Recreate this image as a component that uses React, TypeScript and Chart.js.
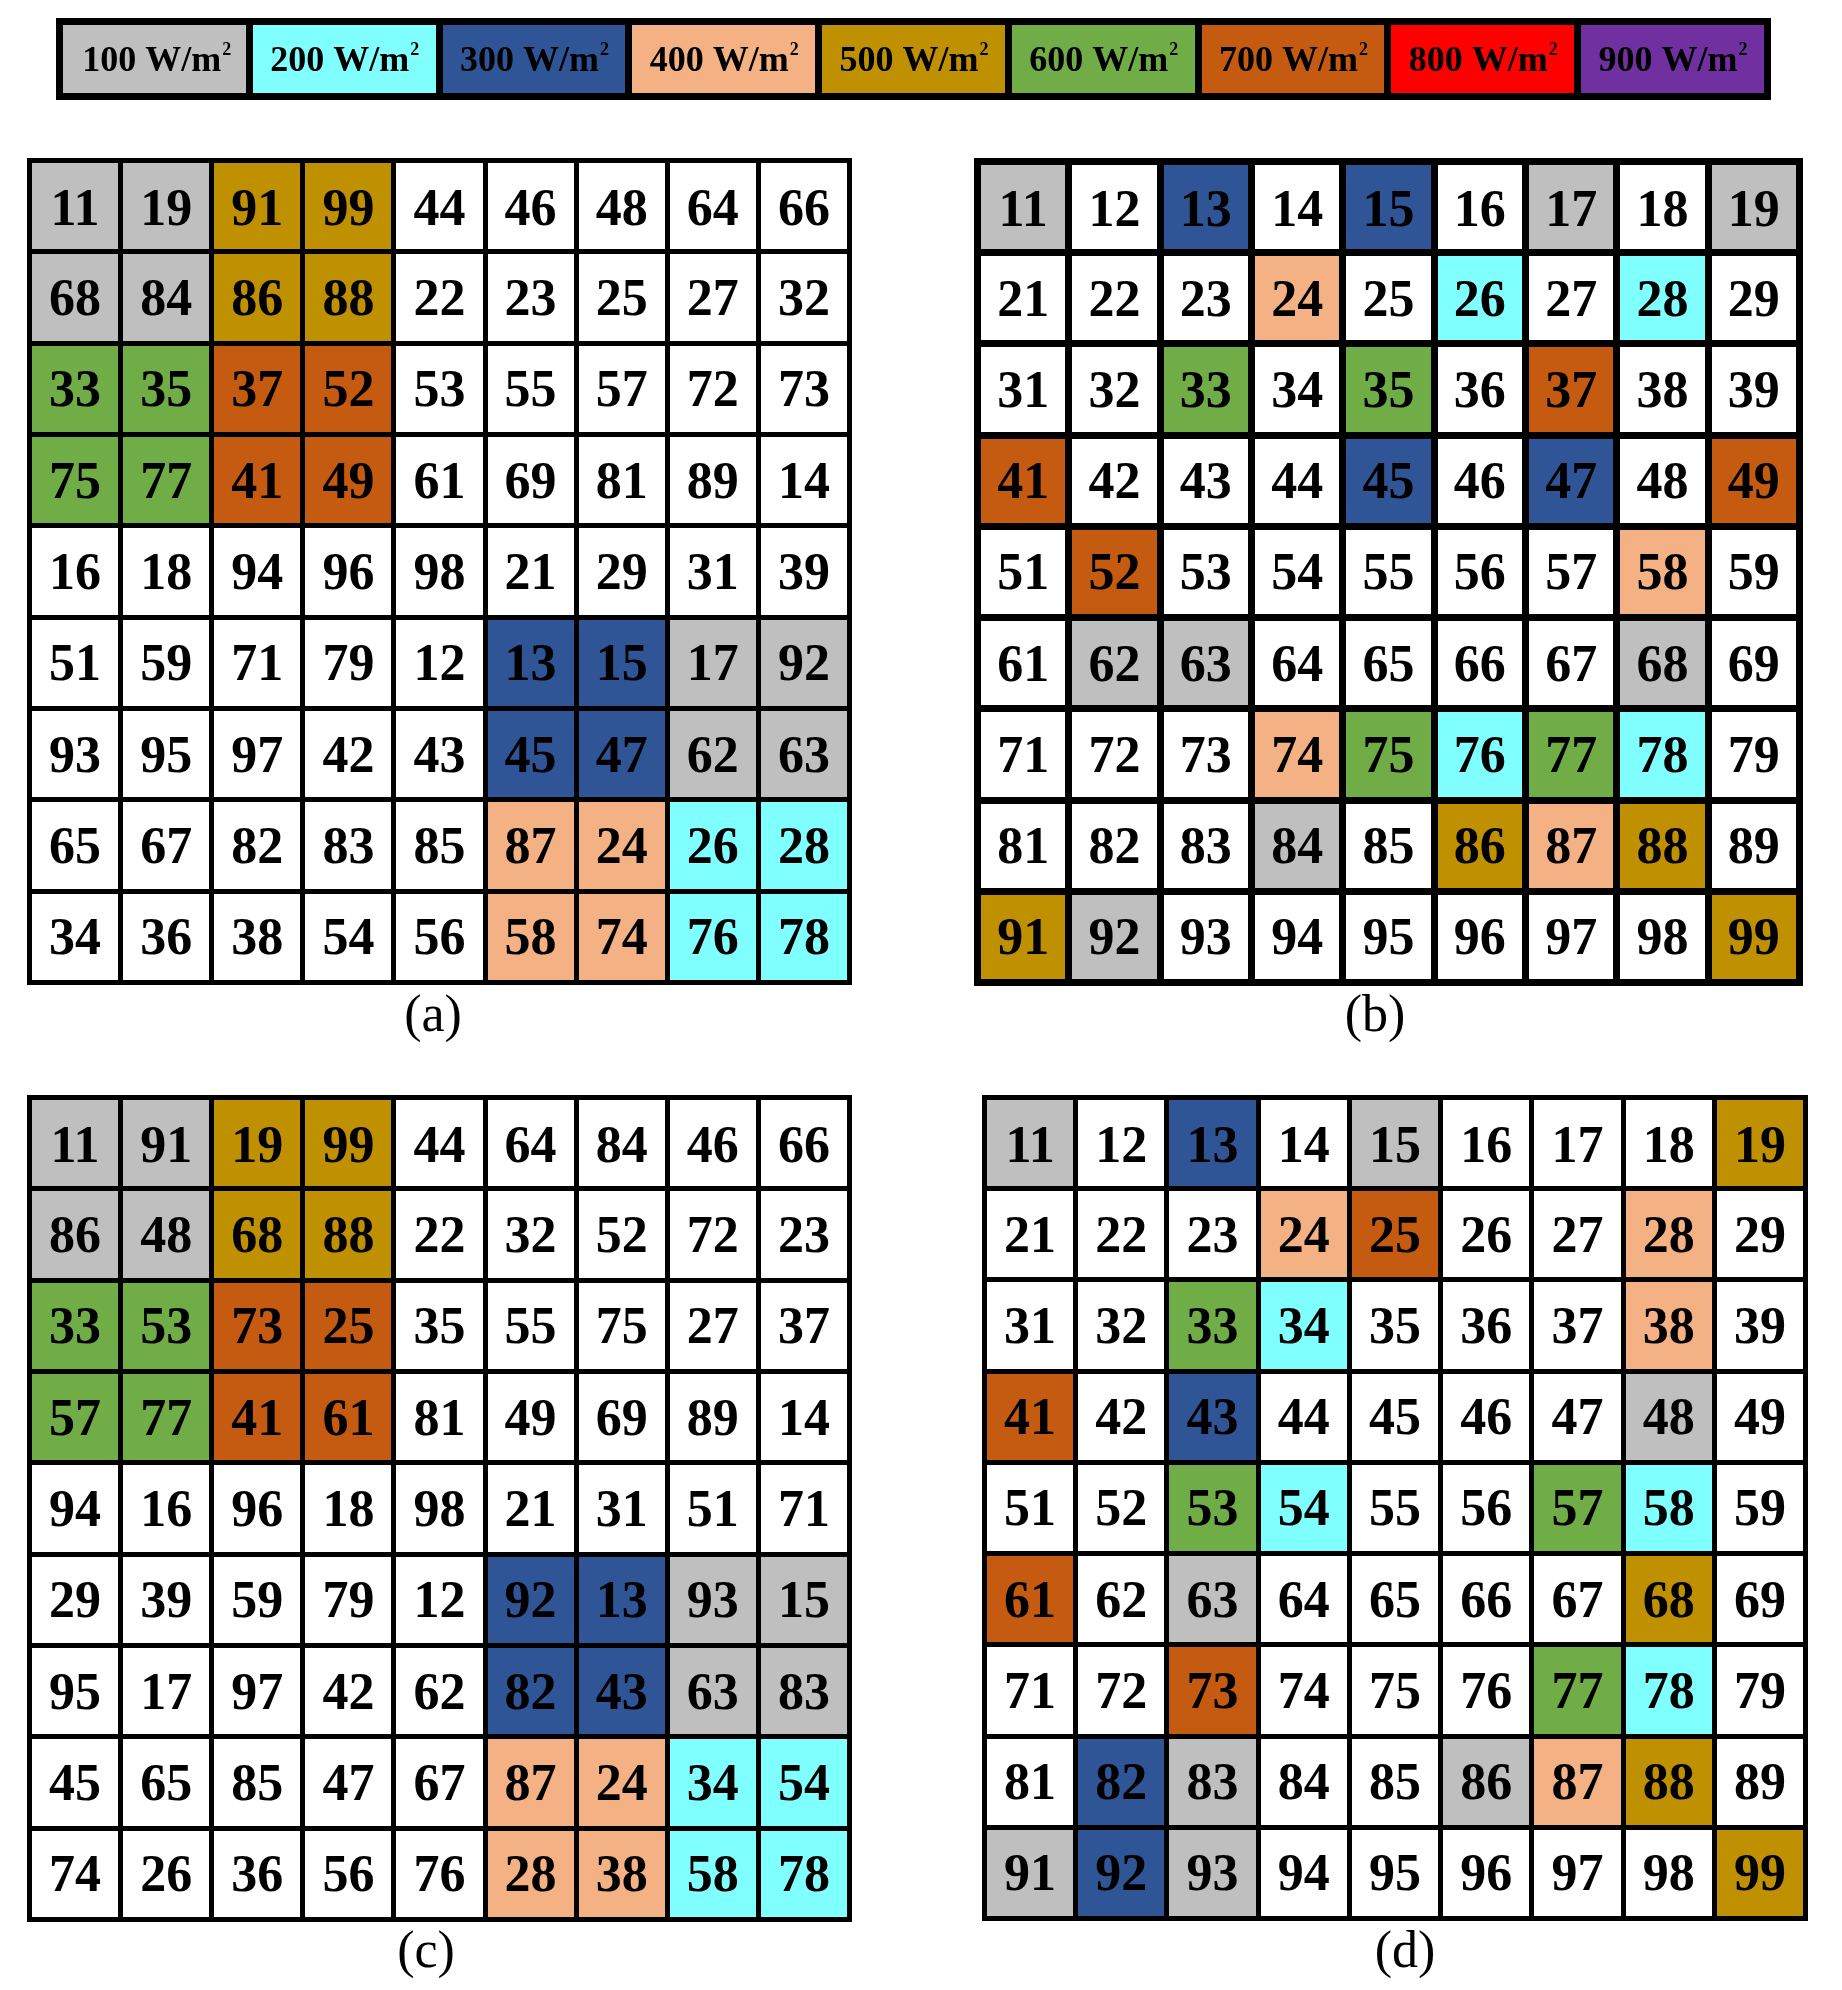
import React, { useEffect, useRef } from 'react';
import { Chart, registerables } from 'chart.js';

Chart.register(...registerables);

// ---------- Legend (power levels) ----------
const LEVEL_LABELS = ['100', '200', '300', '400', '500', '600', '700', '800', '900'];
const LEVEL_UNIT = ' W/m';
const LEVEL_COLORS = ['#BFBFBF', '#80FFFF', '#2F5597', '#F4B183', '#BF9000', '#70AD47', '#C55A11', '#FF0000', '#7030A0'];

// ---------- Scenario 1: panels (a) and (b) ----------
const AB_100 = [11, 19, 68, 84, 17, 92, 62, 63];
const AB_200 = [26, 28, 76, 78];
const AB_300 = [13, 15, 45, 47];
const AB_400 = [87, 24, 58, 74];
const AB_500 = [91, 99, 86, 88];
const AB_600 = [33, 35, 75, 77];
const AB_700 = [37, 52, 41, 49];
const AB_800: number[] = [];
const AB_900: number[] = [];

// ---------- Scenario 2: panels (c) and (d) ----------
const CD_100 = [11, 91, 86, 48, 93, 15, 63, 83];
const CD_200 = [34, 54, 58, 78];
const CD_300 = [92, 13, 82, 43];
const CD_400 = [87, 24, 28, 38];
const CD_500 = [19, 99, 68, 88];
const CD_600 = [33, 53, 57, 77];
const CD_700 = [73, 25, 41, 61];
const CD_800: number[] = [];
const CD_900: number[] = [];

// ---------- Cell numbers of each panel (rows top to bottom) ----------
const GRID_A = [
  [11, 19, 91, 99, 44, 46, 48, 64, 66],
  [68, 84, 86, 88, 22, 23, 25, 27, 32],
  [33, 35, 37, 52, 53, 55, 57, 72, 73],
  [75, 77, 41, 49, 61, 69, 81, 89, 14],
  [16, 18, 94, 96, 98, 21, 29, 31, 39],
  [51, 59, 71, 79, 12, 13, 15, 17, 92],
  [93, 95, 97, 42, 43, 45, 47, 62, 63],
  [65, 67, 82, 83, 85, 87, 24, 26, 28],
  [34, 36, 38, 54, 56, 58, 74, 76, 78],
];
const GRID_B = [
  [11, 12, 13, 14, 15, 16, 17, 18, 19],
  [21, 22, 23, 24, 25, 26, 27, 28, 29],
  [31, 32, 33, 34, 35, 36, 37, 38, 39],
  [41, 42, 43, 44, 45, 46, 47, 48, 49],
  [51, 52, 53, 54, 55, 56, 57, 58, 59],
  [61, 62, 63, 64, 65, 66, 67, 68, 69],
  [71, 72, 73, 74, 75, 76, 77, 78, 79],
  [81, 82, 83, 84, 85, 86, 87, 88, 89],
  [91, 92, 93, 94, 95, 96, 97, 98, 99],
];
const GRID_C = [
  [11, 91, 19, 99, 44, 64, 84, 46, 66],
  [86, 48, 68, 88, 22, 32, 52, 72, 23],
  [33, 53, 73, 25, 35, 55, 75, 27, 37],
  [57, 77, 41, 61, 81, 49, 69, 89, 14],
  [94, 16, 96, 18, 98, 21, 31, 51, 71],
  [29, 39, 59, 79, 12, 92, 13, 93, 15],
  [95, 17, 97, 42, 62, 82, 43, 63, 83],
  [45, 65, 85, 47, 67, 87, 24, 34, 54],
  [74, 26, 36, 56, 76, 28, 38, 58, 78],
];
const GRID_D = [
  [11, 12, 13, 14, 15, 16, 17, 18, 19],
  [21, 22, 23, 24, 25, 26, 27, 28, 29],
  [31, 32, 33, 34, 35, 36, 37, 38, 39],
  [41, 42, 43, 44, 45, 46, 47, 48, 49],
  [51, 52, 53, 54, 55, 56, 57, 58, 59],
  [61, 62, 63, 64, 65, 66, 67, 68, 69],
  [71, 72, 73, 74, 75, 76, 77, 78, 79],
  [81, 82, 83, 84, 85, 86, 87, 88, 89],
  [91, 92, 93, 94, 95, 96, 97, 98, 99],
];
const COLUMN_LABELS = ['1', '2', '3', '4', '5', '6', '7', '8', '9'];

const LEVELS_AB = [AB_100, AB_200, AB_300, AB_400, AB_500, AB_600, AB_700, AB_800, AB_900];
const LEVELS_CD = [CD_100, CD_200, CD_300, CD_400, CD_500, CD_600, CD_700, CD_800, CD_900];

const SERIF = '"Liberation Serif", "Times New Roman", serif';

function colorFor(n: number, levels: number[][]): string {
  for (let i = 0; i < levels.length; i++) {
    if (levels[i].includes(n)) return LEVEL_COLORS[i];
  }
  return '#FFFFFF';
}

type Box = { x0: number; y0: number; x1: number; y1: number };
const MARGIN = 6;

const frameStyle = (box: Box): React.CSSProperties => ({
  position: 'absolute',
  left: box.x0 - MARGIN,
  top: box.y0 - MARGIN,
  display: 'block',
});

function outerFrame(lw: number) {
  return {
    id: 'outerFrame',
    afterDraw(chart: any) {
      const { ctx, chartArea } = chart;
      ctx.save();
      ctx.strokeStyle = '#000';
      ctx.lineWidth = lw;
      ctx.lineJoin = 'miter';
      ctx.strokeRect(chartArea.left, chartArea.top, chartArea.right - chartArea.left, chartArea.bottom - chartArea.top);
      ctx.restore();
    },
  };
}

function GridPanel({ grid, levels, box, lw }: { grid: number[][]; levels: number[][]; box: Box; lw: number }) {
  const ref = useRef<HTMLCanvasElement | null>(null);
  const w = box.x1 - box.x0 + 2 * MARGIN;
  const h = box.y1 - box.y0 + 2 * MARGIN;
  useEffect(() => {
    if (!ref.current) return;
    const pad = MARGIN + lw / 2;
    const datasets = grid.map((row, r) => ({
      label: `row ${r + 1}`,
      data: row.map(() => 1),
      backgroundColor: row.map((n) => colorFor(n, levels)),
      borderWidth: 0,
      barPercentage: 1,
      categoryPercentage: 1,
    }));
    const cellText = {
      id: 'cellText',
      afterDatasetsDraw(chart: any) {
        const { ctx } = chart;
        const size = 52;
        ctx.save();
        ctx.fillStyle = '#000';
        ctx.font = `bold ${size}px ${SERIF}`;
        ctx.textAlign = 'center';
        ctx.textBaseline = 'alphabetic';
        grid.forEach((row, r) => {
          const meta = chart.getDatasetMeta(r);
          row.forEach((n, c) => {
            const el = meta.data[c];
            const cy = (el.y + el.base) / 2;
            ctx.fillText(String(n), el.x, cy + size * 0.335);
          });
        });
        ctx.restore();
      },
    };
    const gridOpts = { color: '#000', lineWidth: lw, drawTicks: false, z: 1 };
    const chart = new Chart(ref.current, {
      type: 'bar',
      data: { labels: COLUMN_LABELS, datasets },
      options: {
        responsive: false,
        animation: false,
        events: [],
        layout: { padding: pad },
        plugins: { legend: { display: false }, tooltip: { enabled: false }, title: { display: false } },
        scales: {
          x: {
            stacked: true,
            ticks: { display: false },
            grid: { ...gridOpts, offset: true },
            border: { display: false },
          },
          y: {
            stacked: true,
            reverse: true,
            min: 0,
            max: 9,
            ticks: { display: false, stepSize: 1 },
            grid: gridOpts,
            border: { display: false },
          },
        },
      } as any,
      plugins: [cellText, outerFrame(lw)],
    });
    return () => chart.destroy();
  }, []);
  return <canvas ref={ref} width={w} height={h} style={frameStyle(box)} />;
}

function LegendBar({ box, lw }: { box: Box; lw: number }) {
  const ref = useRef<HTMLCanvasElement | null>(null);
  const w = box.x1 - box.x0 + 2 * MARGIN;
  const h = box.y1 - box.y0 + 2 * MARGIN;
  useEffect(() => {
    if (!ref.current) return;
    const pad = MARGIN + lw / 2;
    const datasets = LEVEL_LABELS.map((l, i) => ({
      label: l + LEVEL_UNIT + '²',
      data: [1],
      backgroundColor: LEVEL_COLORS[i],
      borderWidth: 0,
      barPercentage: 1,
      categoryPercentage: 1,
    }));
    const legendText = {
      id: 'legendText',
      afterDatasetsDraw(chart: any) {
        const { ctx } = chart;
        const size = 36;
        const sup = 18;
        ctx.save();
        ctx.fillStyle = '#000';
        ctx.textBaseline = 'alphabetic';
        ctx.textAlign = 'left';
        LEVEL_LABELS.forEach((l, i) => {
          const el = chart.getDatasetMeta(i).data[0];
          const cx = (el.x + el.base) / 2;
          const base = el.y + size * 0.335;
          const main = l + LEVEL_UNIT;
          ctx.font = `bold ${size}px ${SERIF}`;
          const mw = ctx.measureText(main).width;
          ctx.font = `bold ${sup}px ${SERIF}`;
          const sw = ctx.measureText('2').width;
          const x0 = cx - (mw + sw) / 2;
          ctx.font = `bold ${size}px ${SERIF}`;
          ctx.fillText(main, x0, base);
          ctx.font = `bold ${sup}px ${SERIF}`;
          ctx.fillText('2', x0 + mw + 1, base - 16);
        });
        ctx.restore();
      },
    };
    const gridOpts = { color: '#000', lineWidth: lw, drawTicks: false, z: 1 };
    const chart = new Chart(ref.current, {
      type: 'bar',
      data: { labels: ['irradiance'], datasets },
      options: {
        indexAxis: 'y',
        responsive: false,
        animation: false,
        events: [],
        layout: { padding: pad },
        plugins: { legend: { display: false }, tooltip: { enabled: false }, title: { display: false } },
        scales: {
          x: {
            stacked: true,
            min: 0,
            max: 9,
            ticks: { display: false, stepSize: 1 },
            grid: gridOpts,
            border: { display: false },
          },
          y: {
            stacked: true,
            ticks: { display: false },
            grid: { ...gridOpts, offset: true },
            border: { display: false },
          },
        },
      } as any,
      plugins: [legendText, outerFrame(lw)],
    });
    return () => chart.destroy();
  }, []);
  return <canvas ref={ref} width={w} height={h} style={frameStyle(box)} />;
}

function PanelLabel({ text, cx, cy }: { text: string; cx: number; cy: number }) {
  return (
    <div
      style={{
        position: 'absolute',
        left: cx,
        top: cy - 5,
        transform: 'translate(-50%, -50%)',
        fontFamily: SERIF,
        fontSize: 52,
        lineHeight: 1,
        color: '#000',
        whiteSpace: 'nowrap',
      }}
    >
      {text}
    </div>
  );
}

export default function App() {
  return (
    <div style={{ position: 'absolute', left: 0, top: 0, width: 1842, height: 1990, background: '#fff' }}>
      <LegendBar box={{ x0: 56, y0: 18, x1: 1771, y1: 100 }} lw={7} />
      <GridPanel grid={GRID_A} levels={LEVELS_AB} box={{ x0: 27, y0: 158, x1: 852, y1: 985 }} lw={5} />
      <GridPanel grid={GRID_B} levels={LEVELS_AB} box={{ x0: 974, y0: 158, x1: 1803, y1: 986 }} lw={7} />
      <GridPanel grid={GRID_C} levels={LEVELS_CD} box={{ x0: 27, y0: 1095, x1: 852, y1: 1922 }} lw={5} />
      <GridPanel grid={GRID_D} levels={LEVELS_CD} box={{ x0: 982, y0: 1095, x1: 1808, y1: 1921 }} lw={5} />
      <PanelLabel text="(a)" cx={433} cy={1019} />
      <PanelLabel text="(b)" cx={1375} cy={1019} />
      <PanelLabel text="(c)" cx={426} cy={1955} />
      <PanelLabel text="(d)" cx={1405} cy={1955} />
    </div>
  );
}
